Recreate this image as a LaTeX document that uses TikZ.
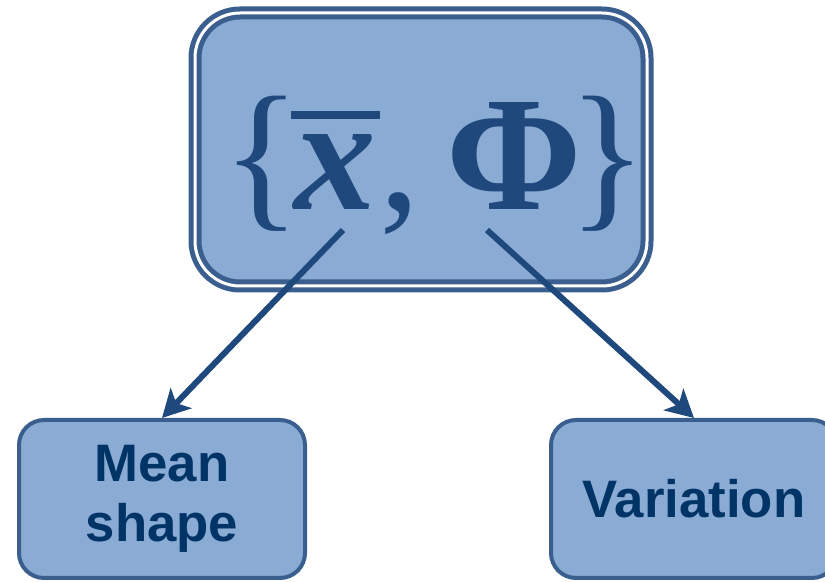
\documentclass[tikz,border=0pt]{standalone}
\usepackage{amsmath,amssymb}
\usepackage{fontspec}
\usepackage{tikz}
\usetikzlibrary{arrows.meta,positioning,calc}
\newfontfamily\labelfont{Liberation Sans}
\newfontfamily\symfont{Liberation Serif}
\definecolor{cA}{HTML}{3A5F8F}
\definecolor{cB}{HTML}{8AABD3}
\definecolor{cT}{HTML}{1F497D}
\definecolor{cL}{HTML}{003366}
\tikzset{
  bigbox/.style={rounded corners=0.9cm,draw=cA,fill=cB,line width=0.1cm,
              double=white,double distance=0.06cm,
              minimum width=9.04cm,minimum height=5.46cm},
  leaf/.style={rounded corners=0.5cm,draw=cA,fill=cB,line width=0.08cm,
              minimum width=5.72cm,minimum height=3.16cm,align=center,
              text=cL,font=\labelfont\bfseries\fontsize{30}{34}\selectfont},
  maparrow/.style={-{Stealth[length=0.55cm,width=0.58cm,inset=0.14cm]},
              line width=0.12cm,cT},
}
\newcommand{\meanx}{\vbox{\hrule height 0.045em\kern0.1em
  \hbox{\kern0.02em\bfseries\itshape x\kern0.02em}}}

\begin{document}
\begin{tikzpicture}
  \useasboundingbox (0,0) rectangle (16.5,-11.64);
  % top box with the pair
  \node[bigbox] (pair) at (8.42,-2.99) {};
  \node[text=cT,inner sep=0pt,anchor=base,
        font=\symfont\fontsize{93}{100}\selectfont] (sym) at (8.7,-4.2)
     {\{\kern-0.06em\meanx,\kern0.16em{\bfseries Φ}\kern-0.08em\}};
  % the two parts
  \node[leaf] (mean) at (3.24,-9.98) {Mean\\shape};
  \node[leaf] (var) at (13.88,-9.98) {Variation};
  % arrows
  \coordinate (ms) at (6.86,-4.6);
  \coordinate (vs) at (9.74,-4.6);
  \draw[maparrow] (ms) -- (mean.north);
  \draw[maparrow] (vs) -- (var.north);
\end{tikzpicture}
\end{document}
